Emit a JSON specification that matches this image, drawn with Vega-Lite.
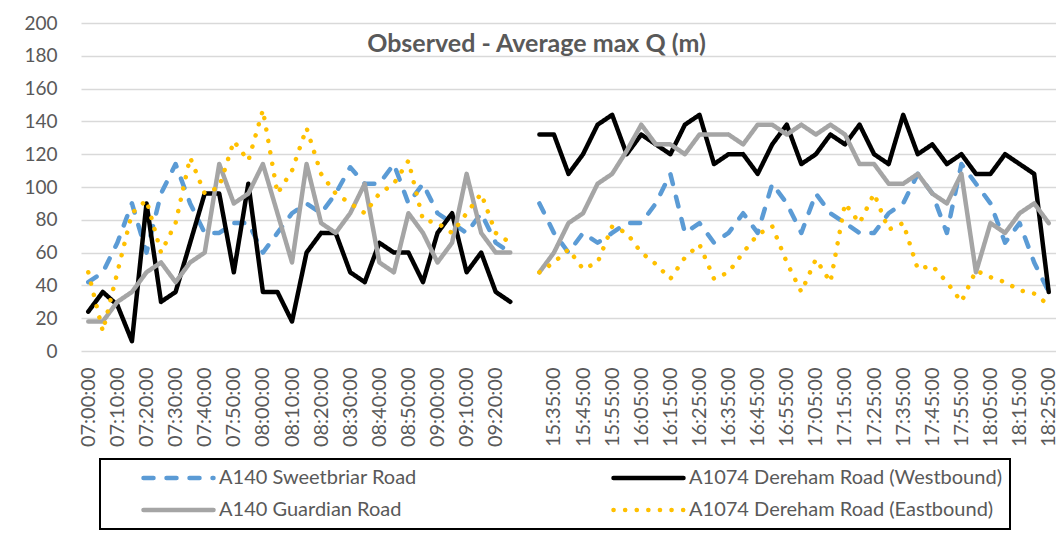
{
  "$schema": "https://vega.github.io/schema/vega-lite/v6.json",
  "autosize": "none",
  "width": 975,
  "height": 328,
  "padding": {"left": 81, "top": 23, "right": 0, "bottom": 182},
  "background": "white",
  "title": {
    "text": "Observed - Average max Q (m)",
    "orient": "top",
    "anchor": "middle",
    "frame": "group",
    "offset": -55,
    "baseline": "middle",
    "dx": -32,
    "font": "Lato",
    "fontSize": 25,
    "fontWeight": "bold",
    "color": "#595959"
  },
  "data": {
    "values": [
      {"t":"07:00:00","p":"AM","s":"A140 Sweetbriar Road","v":42},
      {"t":"07:05:00","p":"AM","s":"A140 Sweetbriar Road","v":48},
      {"t":"07:10:00","p":"AM","s":"A140 Sweetbriar Road","v":66},
      {"t":"07:15:00","p":"AM","s":"A140 Sweetbriar Road","v":90},
      {"t":"07:20:00","p":"AM","s":"A140 Sweetbriar Road","v":60},
      {"t":"07:25:00","p":"AM","s":"A140 Sweetbriar Road","v":96},
      {"t":"07:30:00","p":"AM","s":"A140 Sweetbriar Road","v":114},
      {"t":"07:35:00","p":"AM","s":"A140 Sweetbriar Road","v":90},
      {"t":"07:40:00","p":"AM","s":"A140 Sweetbriar Road","v":72},
      {"t":"07:45:00","p":"AM","s":"A140 Sweetbriar Road","v":72},
      {"t":"07:50:00","p":"AM","s":"A140 Sweetbriar Road","v":78},
      {"t":"07:55:00","p":"AM","s":"A140 Sweetbriar Road","v":78},
      {"t":"08:00:00","p":"AM","s":"A140 Sweetbriar Road","v":60},
      {"t":"08:05:00","p":"AM","s":"A140 Sweetbriar Road","v":72},
      {"t":"08:10:00","p":"AM","s":"A140 Sweetbriar Road","v":84},
      {"t":"08:15:00","p":"AM","s":"A140 Sweetbriar Road","v":90},
      {"t":"08:20:00","p":"AM","s":"A140 Sweetbriar Road","v":84},
      {"t":"08:25:00","p":"AM","s":"A140 Sweetbriar Road","v":96},
      {"t":"08:30:00","p":"AM","s":"A140 Sweetbriar Road","v":112},
      {"t":"08:35:00","p":"AM","s":"A140 Sweetbriar Road","v":102},
      {"t":"08:40:00","p":"AM","s":"A140 Sweetbriar Road","v":102},
      {"t":"08:45:00","p":"AM","s":"A140 Sweetbriar Road","v":114},
      {"t":"08:50:00","p":"AM","s":"A140 Sweetbriar Road","v":90},
      {"t":"08:55:00","p":"AM","s":"A140 Sweetbriar Road","v":102},
      {"t":"09:00:00","p":"AM","s":"A140 Sweetbriar Road","v":84},
      {"t":"09:05:00","p":"AM","s":"A140 Sweetbriar Road","v":78},
      {"t":"09:10:00","p":"AM","s":"A140 Sweetbriar Road","v":72},
      {"t":"09:15:00","p":"AM","s":"A140 Sweetbriar Road","v":84},
      {"t":"09:20:00","p":"AM","s":"A140 Sweetbriar Road","v":66},
      {"t":"09:25:00","p":"AM","s":"A140 Sweetbriar Road","v":60},
      {"t":"15:30:00","p":"PM","s":"A140 Sweetbriar Road","v":90},
      {"t":"15:35:00","p":"PM","s":"A140 Sweetbriar Road","v":72},
      {"t":"15:40:00","p":"PM","s":"A140 Sweetbriar Road","v":60},
      {"t":"15:45:00","p":"PM","s":"A140 Sweetbriar Road","v":72},
      {"t":"15:50:00","p":"PM","s":"A140 Sweetbriar Road","v":66},
      {"t":"15:55:00","p":"PM","s":"A140 Sweetbriar Road","v":72},
      {"t":"16:00:00","p":"PM","s":"A140 Sweetbriar Road","v":78},
      {"t":"16:05:00","p":"PM","s":"A140 Sweetbriar Road","v":78},
      {"t":"16:10:00","p":"PM","s":"A140 Sweetbriar Road","v":90},
      {"t":"16:15:00","p":"PM","s":"A140 Sweetbriar Road","v":108},
      {"t":"16:20:00","p":"PM","s":"A140 Sweetbriar Road","v":72},
      {"t":"16:25:00","p":"PM","s":"A140 Sweetbriar Road","v":78},
      {"t":"16:30:00","p":"PM","s":"A140 Sweetbriar Road","v":66},
      {"t":"16:35:00","p":"PM","s":"A140 Sweetbriar Road","v":72},
      {"t":"16:40:00","p":"PM","s":"A140 Sweetbriar Road","v":84},
      {"t":"16:45:00","p":"PM","s":"A140 Sweetbriar Road","v":72},
      {"t":"16:50:00","p":"PM","s":"A140 Sweetbriar Road","v":102},
      {"t":"16:55:00","p":"PM","s":"A140 Sweetbriar Road","v":90},
      {"t":"17:00:00","p":"PM","s":"A140 Sweetbriar Road","v":72},
      {"t":"17:05:00","p":"PM","s":"A140 Sweetbriar Road","v":96},
      {"t":"17:10:00","p":"PM","s":"A140 Sweetbriar Road","v":84},
      {"t":"17:15:00","p":"PM","s":"A140 Sweetbriar Road","v":78},
      {"t":"17:20:00","p":"PM","s":"A140 Sweetbriar Road","v":72},
      {"t":"17:25:00","p":"PM","s":"A140 Sweetbriar Road","v":72},
      {"t":"17:30:00","p":"PM","s":"A140 Sweetbriar Road","v":84},
      {"t":"17:35:00","p":"PM","s":"A140 Sweetbriar Road","v":90},
      {"t":"17:40:00","p":"PM","s":"A140 Sweetbriar Road","v":108},
      {"t":"17:45:00","p":"PM","s":"A140 Sweetbriar Road","v":96},
      {"t":"17:50:00","p":"PM","s":"A140 Sweetbriar Road","v":72},
      {"t":"17:55:00","p":"PM","s":"A140 Sweetbriar Road","v":114},
      {"t":"18:00:00","p":"PM","s":"A140 Sweetbriar Road","v":102},
      {"t":"18:05:00","p":"PM","s":"A140 Sweetbriar Road","v":90},
      {"t":"18:10:00","p":"PM","s":"A140 Sweetbriar Road","v":66},
      {"t":"18:15:00","p":"PM","s":"A140 Sweetbriar Road","v":78},
      {"t":"18:20:00","p":"PM","s":"A140 Sweetbriar Road","v":54},
      {"t":"18:25:00","p":"PM","s":"A140 Sweetbriar Road","v":36},

      {"t":"07:00:00","p":"AM","s":"A1074 Dereham Road (Westbound)","v":24},
      {"t":"07:05:00","p":"AM","s":"A1074 Dereham Road (Westbound)","v":36},
      {"t":"07:10:00","p":"AM","s":"A1074 Dereham Road (Westbound)","v":28},
      {"t":"07:15:00","p":"AM","s":"A1074 Dereham Road (Westbound)","v":6},
      {"t":"07:20:00","p":"AM","s":"A1074 Dereham Road (Westbound)","v":90},
      {"t":"07:25:00","p":"AM","s":"A1074 Dereham Road (Westbound)","v":30},
      {"t":"07:30:00","p":"AM","s":"A1074 Dereham Road (Westbound)","v":36},
      {"t":"07:35:00","p":"AM","s":"A1074 Dereham Road (Westbound)","v":66},
      {"t":"07:40:00","p":"AM","s":"A1074 Dereham Road (Westbound)","v":96},
      {"t":"07:45:00","p":"AM","s":"A1074 Dereham Road (Westbound)","v":96},
      {"t":"07:50:00","p":"AM","s":"A1074 Dereham Road (Westbound)","v":48},
      {"t":"07:55:00","p":"AM","s":"A1074 Dereham Road (Westbound)","v":102},
      {"t":"08:00:00","p":"AM","s":"A1074 Dereham Road (Westbound)","v":36},
      {"t":"08:05:00","p":"AM","s":"A1074 Dereham Road (Westbound)","v":36},
      {"t":"08:10:00","p":"AM","s":"A1074 Dereham Road (Westbound)","v":18},
      {"t":"08:15:00","p":"AM","s":"A1074 Dereham Road (Westbound)","v":60},
      {"t":"08:20:00","p":"AM","s":"A1074 Dereham Road (Westbound)","v":72},
      {"t":"08:25:00","p":"AM","s":"A1074 Dereham Road (Westbound)","v":72},
      {"t":"08:30:00","p":"AM","s":"A1074 Dereham Road (Westbound)","v":48},
      {"t":"08:35:00","p":"AM","s":"A1074 Dereham Road (Westbound)","v":42},
      {"t":"08:40:00","p":"AM","s":"A1074 Dereham Road (Westbound)","v":66},
      {"t":"08:45:00","p":"AM","s":"A1074 Dereham Road (Westbound)","v":60},
      {"t":"08:50:00","p":"AM","s":"A1074 Dereham Road (Westbound)","v":60},
      {"t":"08:55:00","p":"AM","s":"A1074 Dereham Road (Westbound)","v":42},
      {"t":"09:00:00","p":"AM","s":"A1074 Dereham Road (Westbound)","v":72},
      {"t":"09:05:00","p":"AM","s":"A1074 Dereham Road (Westbound)","v":84},
      {"t":"09:10:00","p":"AM","s":"A1074 Dereham Road (Westbound)","v":48},
      {"t":"09:15:00","p":"AM","s":"A1074 Dereham Road (Westbound)","v":60},
      {"t":"09:20:00","p":"AM","s":"A1074 Dereham Road (Westbound)","v":36},
      {"t":"09:25:00","p":"AM","s":"A1074 Dereham Road (Westbound)","v":30},
      {"t":"15:30:00","p":"PM","s":"A1074 Dereham Road (Westbound)","v":132},
      {"t":"15:35:00","p":"PM","s":"A1074 Dereham Road (Westbound)","v":132},
      {"t":"15:40:00","p":"PM","s":"A1074 Dereham Road (Westbound)","v":108},
      {"t":"15:45:00","p":"PM","s":"A1074 Dereham Road (Westbound)","v":120},
      {"t":"15:50:00","p":"PM","s":"A1074 Dereham Road (Westbound)","v":138},
      {"t":"15:55:00","p":"PM","s":"A1074 Dereham Road (Westbound)","v":144},
      {"t":"16:00:00","p":"PM","s":"A1074 Dereham Road (Westbound)","v":120},
      {"t":"16:05:00","p":"PM","s":"A1074 Dereham Road (Westbound)","v":132},
      {"t":"16:10:00","p":"PM","s":"A1074 Dereham Road (Westbound)","v":126},
      {"t":"16:15:00","p":"PM","s":"A1074 Dereham Road (Westbound)","v":120},
      {"t":"16:20:00","p":"PM","s":"A1074 Dereham Road (Westbound)","v":138},
      {"t":"16:25:00","p":"PM","s":"A1074 Dereham Road (Westbound)","v":144},
      {"t":"16:30:00","p":"PM","s":"A1074 Dereham Road (Westbound)","v":114},
      {"t":"16:35:00","p":"PM","s":"A1074 Dereham Road (Westbound)","v":120},
      {"t":"16:40:00","p":"PM","s":"A1074 Dereham Road (Westbound)","v":120},
      {"t":"16:45:00","p":"PM","s":"A1074 Dereham Road (Westbound)","v":108},
      {"t":"16:50:00","p":"PM","s":"A1074 Dereham Road (Westbound)","v":126},
      {"t":"16:55:00","p":"PM","s":"A1074 Dereham Road (Westbound)","v":138},
      {"t":"17:00:00","p":"PM","s":"A1074 Dereham Road (Westbound)","v":114},
      {"t":"17:05:00","p":"PM","s":"A1074 Dereham Road (Westbound)","v":120},
      {"t":"17:10:00","p":"PM","s":"A1074 Dereham Road (Westbound)","v":132},
      {"t":"17:15:00","p":"PM","s":"A1074 Dereham Road (Westbound)","v":126},
      {"t":"17:20:00","p":"PM","s":"A1074 Dereham Road (Westbound)","v":138},
      {"t":"17:25:00","p":"PM","s":"A1074 Dereham Road (Westbound)","v":120},
      {"t":"17:30:00","p":"PM","s":"A1074 Dereham Road (Westbound)","v":114},
      {"t":"17:35:00","p":"PM","s":"A1074 Dereham Road (Westbound)","v":144},
      {"t":"17:40:00","p":"PM","s":"A1074 Dereham Road (Westbound)","v":120},
      {"t":"17:45:00","p":"PM","s":"A1074 Dereham Road (Westbound)","v":126},
      {"t":"17:50:00","p":"PM","s":"A1074 Dereham Road (Westbound)","v":114},
      {"t":"17:55:00","p":"PM","s":"A1074 Dereham Road (Westbound)","v":120},
      {"t":"18:00:00","p":"PM","s":"A1074 Dereham Road (Westbound)","v":108},
      {"t":"18:05:00","p":"PM","s":"A1074 Dereham Road (Westbound)","v":108},
      {"t":"18:10:00","p":"PM","s":"A1074 Dereham Road (Westbound)","v":120},
      {"t":"18:15:00","p":"PM","s":"A1074 Dereham Road (Westbound)","v":114},
      {"t":"18:20:00","p":"PM","s":"A1074 Dereham Road (Westbound)","v":108},
      {"t":"18:25:00","p":"PM","s":"A1074 Dereham Road (Westbound)","v":36},

      {"t":"07:00:00","p":"AM","s":"A140 Guardian Road","v":18},
      {"t":"07:05:00","p":"AM","s":"A140 Guardian Road","v":18},
      {"t":"07:10:00","p":"AM","s":"A140 Guardian Road","v":30},
      {"t":"07:15:00","p":"AM","s":"A140 Guardian Road","v":36},
      {"t":"07:20:00","p":"AM","s":"A140 Guardian Road","v":48},
      {"t":"07:25:00","p":"AM","s":"A140 Guardian Road","v":54},
      {"t":"07:30:00","p":"AM","s":"A140 Guardian Road","v":42},
      {"t":"07:35:00","p":"AM","s":"A140 Guardian Road","v":54},
      {"t":"07:40:00","p":"AM","s":"A140 Guardian Road","v":60},
      {"t":"07:45:00","p":"AM","s":"A140 Guardian Road","v":114},
      {"t":"07:50:00","p":"AM","s":"A140 Guardian Road","v":90},
      {"t":"07:55:00","p":"AM","s":"A140 Guardian Road","v":96},
      {"t":"08:00:00","p":"AM","s":"A140 Guardian Road","v":114},
      {"t":"08:05:00","p":"AM","s":"A140 Guardian Road","v":84},
      {"t":"08:10:00","p":"AM","s":"A140 Guardian Road","v":54},
      {"t":"08:15:00","p":"AM","s":"A140 Guardian Road","v":114},
      {"t":"08:20:00","p":"AM","s":"A140 Guardian Road","v":78},
      {"t":"08:25:00","p":"AM","s":"A140 Guardian Road","v":72},
      {"t":"08:30:00","p":"AM","s":"A140 Guardian Road","v":84},
      {"t":"08:35:00","p":"AM","s":"A140 Guardian Road","v":102},
      {"t":"08:40:00","p":"AM","s":"A140 Guardian Road","v":54},
      {"t":"08:45:00","p":"AM","s":"A140 Guardian Road","v":48},
      {"t":"08:50:00","p":"AM","s":"A140 Guardian Road","v":84},
      {"t":"08:55:00","p":"AM","s":"A140 Guardian Road","v":72},
      {"t":"09:00:00","p":"AM","s":"A140 Guardian Road","v":54},
      {"t":"09:05:00","p":"AM","s":"A140 Guardian Road","v":66},
      {"t":"09:10:00","p":"AM","s":"A140 Guardian Road","v":108},
      {"t":"09:15:00","p":"AM","s":"A140 Guardian Road","v":72},
      {"t":"09:20:00","p":"AM","s":"A140 Guardian Road","v":60},
      {"t":"09:25:00","p":"AM","s":"A140 Guardian Road","v":60},
      {"t":"15:30:00","p":"PM","s":"A140 Guardian Road","v":48},
      {"t":"15:35:00","p":"PM","s":"A140 Guardian Road","v":60},
      {"t":"15:40:00","p":"PM","s":"A140 Guardian Road","v":78},
      {"t":"15:45:00","p":"PM","s":"A140 Guardian Road","v":84},
      {"t":"15:50:00","p":"PM","s":"A140 Guardian Road","v":102},
      {"t":"15:55:00","p":"PM","s":"A140 Guardian Road","v":108},
      {"t":"16:00:00","p":"PM","s":"A140 Guardian Road","v":122},
      {"t":"16:05:00","p":"PM","s":"A140 Guardian Road","v":138},
      {"t":"16:10:00","p":"PM","s":"A140 Guardian Road","v":126},
      {"t":"16:15:00","p":"PM","s":"A140 Guardian Road","v":126},
      {"t":"16:20:00","p":"PM","s":"A140 Guardian Road","v":120},
      {"t":"16:25:00","p":"PM","s":"A140 Guardian Road","v":132},
      {"t":"16:30:00","p":"PM","s":"A140 Guardian Road","v":132},
      {"t":"16:35:00","p":"PM","s":"A140 Guardian Road","v":132},
      {"t":"16:40:00","p":"PM","s":"A140 Guardian Road","v":126},
      {"t":"16:45:00","p":"PM","s":"A140 Guardian Road","v":138},
      {"t":"16:50:00","p":"PM","s":"A140 Guardian Road","v":138},
      {"t":"16:55:00","p":"PM","s":"A140 Guardian Road","v":132},
      {"t":"17:00:00","p":"PM","s":"A140 Guardian Road","v":138},
      {"t":"17:05:00","p":"PM","s":"A140 Guardian Road","v":132},
      {"t":"17:10:00","p":"PM","s":"A140 Guardian Road","v":138},
      {"t":"17:15:00","p":"PM","s":"A140 Guardian Road","v":132},
      {"t":"17:20:00","p":"PM","s":"A140 Guardian Road","v":114},
      {"t":"17:25:00","p":"PM","s":"A140 Guardian Road","v":114},
      {"t":"17:30:00","p":"PM","s":"A140 Guardian Road","v":102},
      {"t":"17:35:00","p":"PM","s":"A140 Guardian Road","v":102},
      {"t":"17:40:00","p":"PM","s":"A140 Guardian Road","v":108},
      {"t":"17:45:00","p":"PM","s":"A140 Guardian Road","v":96},
      {"t":"17:50:00","p":"PM","s":"A140 Guardian Road","v":90},
      {"t":"17:55:00","p":"PM","s":"A140 Guardian Road","v":108},
      {"t":"18:00:00","p":"PM","s":"A140 Guardian Road","v":48},
      {"t":"18:05:00","p":"PM","s":"A140 Guardian Road","v":78},
      {"t":"18:10:00","p":"PM","s":"A140 Guardian Road","v":72},
      {"t":"18:15:00","p":"PM","s":"A140 Guardian Road","v":84},
      {"t":"18:20:00","p":"PM","s":"A140 Guardian Road","v":90},
      {"t":"18:25:00","p":"PM","s":"A140 Guardian Road","v":78},

      {"t":"07:00:00","p":"AM","s":"A1074 Dereham Road (Eastbound)","v":48},
      {"t":"07:05:00","p":"AM","s":"A1074 Dereham Road (Eastbound)","v":12},
      {"t":"07:10:00","p":"AM","s":"A1074 Dereham Road (Eastbound)","v":48},
      {"t":"07:15:00","p":"AM","s":"A1074 Dereham Road (Eastbound)","v":84},
      {"t":"07:20:00","p":"AM","s":"A1074 Dereham Road (Eastbound)","v":92},
      {"t":"07:25:00","p":"AM","s":"A1074 Dereham Road (Eastbound)","v":60},
      {"t":"07:30:00","p":"AM","s":"A1074 Dereham Road (Eastbound)","v":78},
      {"t":"07:35:00","p":"AM","s":"A1074 Dereham Road (Eastbound)","v":118},
      {"t":"07:40:00","p":"AM","s":"A1074 Dereham Road (Eastbound)","v":96},
      {"t":"07:45:00","p":"AM","s":"A1074 Dereham Road (Eastbound)","v":100},
      {"t":"07:50:00","p":"AM","s":"A1074 Dereham Road (Eastbound)","v":128},
      {"t":"07:55:00","p":"AM","s":"A1074 Dereham Road (Eastbound)","v":116},
      {"t":"08:00:00","p":"AM","s":"A1074 Dereham Road (Eastbound)","v":147},
      {"t":"08:05:00","p":"AM","s":"A1074 Dereham Road (Eastbound)","v":96},
      {"t":"08:10:00","p":"AM","s":"A1074 Dereham Road (Eastbound)","v":110},
      {"t":"08:15:00","p":"AM","s":"A1074 Dereham Road (Eastbound)","v":136},
      {"t":"08:20:00","p":"AM","s":"A1074 Dereham Road (Eastbound)","v":108},
      {"t":"08:25:00","p":"AM","s":"A1074 Dereham Road (Eastbound)","v":96},
      {"t":"08:30:00","p":"AM","s":"A1074 Dereham Road (Eastbound)","v":90},
      {"t":"08:35:00","p":"AM","s":"A1074 Dereham Road (Eastbound)","v":84},
      {"t":"08:40:00","p":"AM","s":"A1074 Dereham Road (Eastbound)","v":96},
      {"t":"08:45:00","p":"AM","s":"A1074 Dereham Road (Eastbound)","v":102},
      {"t":"08:50:00","p":"AM","s":"A1074 Dereham Road (Eastbound)","v":116},
      {"t":"08:55:00","p":"AM","s":"A1074 Dereham Road (Eastbound)","v":80},
      {"t":"09:00:00","p":"AM","s":"A1074 Dereham Road (Eastbound)","v":78},
      {"t":"09:05:00","p":"AM","s":"A1074 Dereham Road (Eastbound)","v":72},
      {"t":"09:10:00","p":"AM","s":"A1074 Dereham Road (Eastbound)","v":84},
      {"t":"09:15:00","p":"AM","s":"A1074 Dereham Road (Eastbound)","v":96},
      {"t":"09:20:00","p":"AM","s":"A1074 Dereham Road (Eastbound)","v":72},
      {"t":"09:25:00","p":"AM","s":"A1074 Dereham Road (Eastbound)","v":66},
      {"t":"15:30:00","p":"PM","s":"A1074 Dereham Road (Eastbound)","v":48},
      {"t":"15:35:00","p":"PM","s":"A1074 Dereham Road (Eastbound)","v":54},
      {"t":"15:40:00","p":"PM","s":"A1074 Dereham Road (Eastbound)","v":62},
      {"t":"15:45:00","p":"PM","s":"A1074 Dereham Road (Eastbound)","v":50},
      {"t":"15:50:00","p":"PM","s":"A1074 Dereham Road (Eastbound)","v":54},
      {"t":"15:55:00","p":"PM","s":"A1074 Dereham Road (Eastbound)","v":76},
      {"t":"16:00:00","p":"PM","s":"A1074 Dereham Road (Eastbound)","v":72},
      {"t":"16:05:00","p":"PM","s":"A1074 Dereham Road (Eastbound)","v":60},
      {"t":"16:10:00","p":"PM","s":"A1074 Dereham Road (Eastbound)","v":53},
      {"t":"16:15:00","p":"PM","s":"A1074 Dereham Road (Eastbound)","v":44},
      {"t":"16:20:00","p":"PM","s":"A1074 Dereham Road (Eastbound)","v":57},
      {"t":"16:25:00","p":"PM","s":"A1074 Dereham Road (Eastbound)","v":65},
      {"t":"16:30:00","p":"PM","s":"A1074 Dereham Road (Eastbound)","v":44},
      {"t":"16:35:00","p":"PM","s":"A1074 Dereham Road (Eastbound)","v":48},
      {"t":"16:40:00","p":"PM","s":"A1074 Dereham Road (Eastbound)","v":60},
      {"t":"16:45:00","p":"PM","s":"A1074 Dereham Road (Eastbound)","v":71},
      {"t":"16:50:00","p":"PM","s":"A1074 Dereham Road (Eastbound)","v":76},
      {"t":"16:55:00","p":"PM","s":"A1074 Dereham Road (Eastbound)","v":54},
      {"t":"17:00:00","p":"PM","s":"A1074 Dereham Road (Eastbound)","v":36},
      {"t":"17:05:00","p":"PM","s":"A1074 Dereham Road (Eastbound)","v":56},
      {"t":"17:10:00","p":"PM","s":"A1074 Dereham Road (Eastbound)","v":42},
      {"t":"17:15:00","p":"PM","s":"A1074 Dereham Road (Eastbound)","v":90},
      {"t":"17:20:00","p":"PM","s":"A1074 Dereham Road (Eastbound)","v":78},
      {"t":"17:25:00","p":"PM","s":"A1074 Dereham Road (Eastbound)","v":96},
      {"t":"17:30:00","p":"PM","s":"A1074 Dereham Road (Eastbound)","v":74},
      {"t":"17:35:00","p":"PM","s":"A1074 Dereham Road (Eastbound)","v":78},
      {"t":"17:40:00","p":"PM","s":"A1074 Dereham Road (Eastbound)","v":50},
      {"t":"17:45:00","p":"PM","s":"A1074 Dereham Road (Eastbound)","v":52},
      {"t":"17:50:00","p":"PM","s":"A1074 Dereham Road (Eastbound)","v":42},
      {"t":"17:55:00","p":"PM","s":"A1074 Dereham Road (Eastbound)","v":30},
      {"t":"18:00:00","p":"PM","s":"A1074 Dereham Road (Eastbound)","v":49},
      {"t":"18:05:00","p":"PM","s":"A1074 Dereham Road (Eastbound)","v":45},
      {"t":"18:10:00","p":"PM","s":"A1074 Dereham Road (Eastbound)","v":42},
      {"t":"18:15:00","p":"PM","s":"A1074 Dereham Road (Eastbound)","v":37},
      {"t":"18:20:00","p":"PM","s":"A1074 Dereham Road (Eastbound)","v":35},
      {"t":"18:25:00","p":"PM","s":"A1074 Dereham Road (Eastbound)","v":28}
    ]
  },
  "mark": {"type": "line", "strokeWidth": 4.5, "strokeCap": "round", "strokeJoin": "round"},
  "encoding": {
    "x": {
      "field": "t",
      "type": "ordinal",
      "sort": null,
      "scale": {
        "type": "point",
        "padding": 0.5,
        "domain": ["07:00:00","07:05:00","07:10:00","07:15:00","07:20:00","07:25:00","07:30:00","07:35:00","07:40:00","07:45:00","07:50:00","07:55:00","08:00:00","08:05:00","08:10:00","08:15:00","08:20:00","08:25:00","08:30:00","08:35:00","08:40:00","08:45:00","08:50:00","08:55:00","09:00:00","09:05:00","09:10:00","09:15:00","09:20:00","09:25:00","gap","15:30:00","15:35:00","15:40:00","15:45:00","15:50:00","15:55:00","16:00:00","16:05:00","16:10:00","16:15:00","16:20:00","16:25:00","16:30:00","16:35:00","16:40:00","16:45:00","16:50:00","16:55:00","17:00:00","17:05:00","17:10:00","17:15:00","17:20:00","17:25:00","17:30:00","17:35:00","17:40:00","17:45:00","17:50:00","17:55:00","18:00:00","18:05:00","18:10:00","18:15:00","18:20:00","18:25:00"]
      },
      "axis": {
        "title": null,
        "values": ["07:00:00","07:10:00","07:20:00","07:30:00","07:40:00","07:50:00","08:00:00","08:10:00","08:20:00","08:30:00","08:40:00","08:50:00","09:00:00","09:10:00","09:20:00","15:35:00","15:45:00","15:55:00","16:05:00","16:15:00","16:25:00","16:35:00","16:45:00","16:55:00","17:05:00","17:15:00","17:25:00","17:35:00","17:45:00","17:55:00","18:05:00","18:15:00","18:25:00"],
        "labelAngle": 270,
        "labelPadding": 16,
        "ticks": false,
        "domain": false,
        "grid": false,
        "labelOverlap": false,
        "labelFont": "Lato",
        "labelFontSize": 20,
        "labelColor": "#595959"
      }
    },
    "y": {
      "field": "v",
      "type": "quantitative",
      "scale": {"domain": [0, 200], "nice": false},
      "axis": {
        "title": null,
        "values": [0, 20, 40, 60, 80, 100, 120, 140, 160, 180, 200],
        "ticks": false,
        "domain": false,
        "labelPadding": 24,
        "labelFont": "Lato",
        "labelFontSize": 19,
        "labelColor": "#595959",
        "gridColor": "#d9d9d9",
        "gridWidth": 1.5
      }
    },
    "detail": {"field": "p"},
    "color": {
      "field": "s",
      "type": "nominal",
      "scale": {
        "domain": ["A140 Sweetbriar Road","A140 Guardian Road","A1074 Dereham Road (Westbound)","A1074 Dereham Road (Eastbound)"],
        "range": ["#5B9BD5","#A5A5A5","#000000","#FFC000"]
      },
      "legend": {
        "title": null,
        "orient": "none",
        "legendX": 19,
        "legendY": 436,
        "columns": 2,
        "columnPadding": 161,
        "rowPadding": 10,
        "clipHeight": 22,
        "padding": 8,
        "symbolType": "stroke",
        "symbolSize": 4900,
        "symbolStrokeWidth": 4.5,
        "symbolOffset": 33,
        "labelOffset": 3,
        "labelLimit": 500,
        "labelFont": "Lato",
        "labelFontSize": 20,
        "labelColor": "#595959",
        "strokeColor": "#000000",
        "encode": {"symbols": {"update": {"strokeCap": {"value": "round"}}}}
      }
    },
    "strokeDash": {
      "field": "s",
      "type": "nominal",
      "scale": {
        "domain": ["A140 Sweetbriar Road","A140 Guardian Road","A1074 Dereham Road (Westbound)","A1074 Dereham Road (Eastbound)"],
        "range": [[10, 13], [1, 0], [1, 0], [0.1, 11.5]]
      },
      "legend": null
    }
  },
  "config": {
    "view": {"stroke": null},
    "legend": {"strokeWidth": 2}
  }
}
